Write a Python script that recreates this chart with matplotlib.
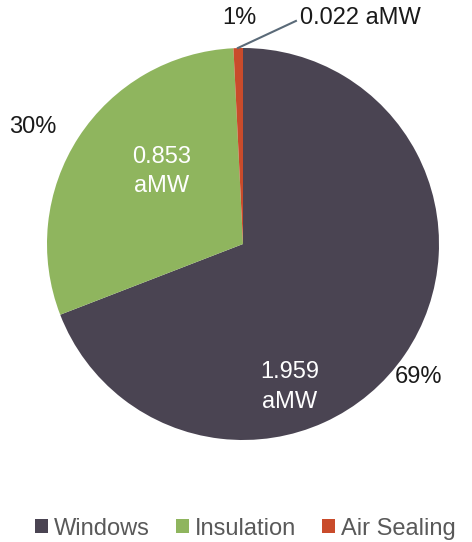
import numpy as np
import matplotlib
matplotlib.use("Agg")
import matplotlib.pyplot as plt

plt.rcParams["font.family"] = ["Liberation Sans", "DejaVu Sans"]

categories = ["Windows", "Insulation", "Air Sealing"]
values = [1.959, 0.853, 0.022]
colors = ["#4a4452", "#8fb55e", "#c94b2b"]

fig = plt.figure(figsize=(4.72, 5.42), dpi=100)
ax = fig.add_axes([47 / 472, 102 / 542, 392 / 472, 392 / 542])

wedges, _ = ax.pie(values, colors=colors, startangle=90, counterclock=False,
                   radius=1.0, wedgeprops=dict(linewidth=0))
ax.set_xlim(-1, 1)
ax.set_ylim(-1, 1)
ax.set_aspect("equal")
ax.axis("off")

total = sum(values)
pcts = [f"{round(v / total * 100):.0f}%" for v in values]

# percent labels outside, placed along each wedge direction
pct_pos = [(-37.2, 1.122), (150.9, 1.226), (90.8, 1.153)]
for txt, (ang, r) in zip(pcts, pct_pos):
    a = np.deg2rad(ang)
    ax.text(r * np.cos(a), r * np.sin(a), txt, ha="center", va="center",
            fontsize=17, color="#1a1a1a", clip_on=False)

# value labels inside the big wedges
ax.text(0.24, -0.73, f"{values[0]:.3f}\naMW", ha="center", va="center",
        fontsize=17, color="white", linespacing=1.45)
ax.text(-0.413, 0.37, f"{values[1]:.3f}\naMW", ha="center", va="center",
        fontsize=17, color="white", linespacing=1.45)

# small wedge: leader line + value
ax.plot([-0.026, 0.27], [1.0, 1.138], color="#5a6a78", lw=1.5, clip_on=False)
ax.text(0.29, 1.153, f"{values[2]:.3f} aMW", ha="left", va="center",
        fontsize=17, color="#1a1a1a", clip_on=False)

fig.legend(wedges, categories, loc="lower center", bbox_to_anchor=(0.52, -0.035),
           ncol=3, frameon=False, fontsize=17, handlelength=0.55, handleheight=0.55,
           handletextpad=0.25, columnspacing=1.1, labelcolor="#595959")

fig.savefig("out.png", dpi=100)
